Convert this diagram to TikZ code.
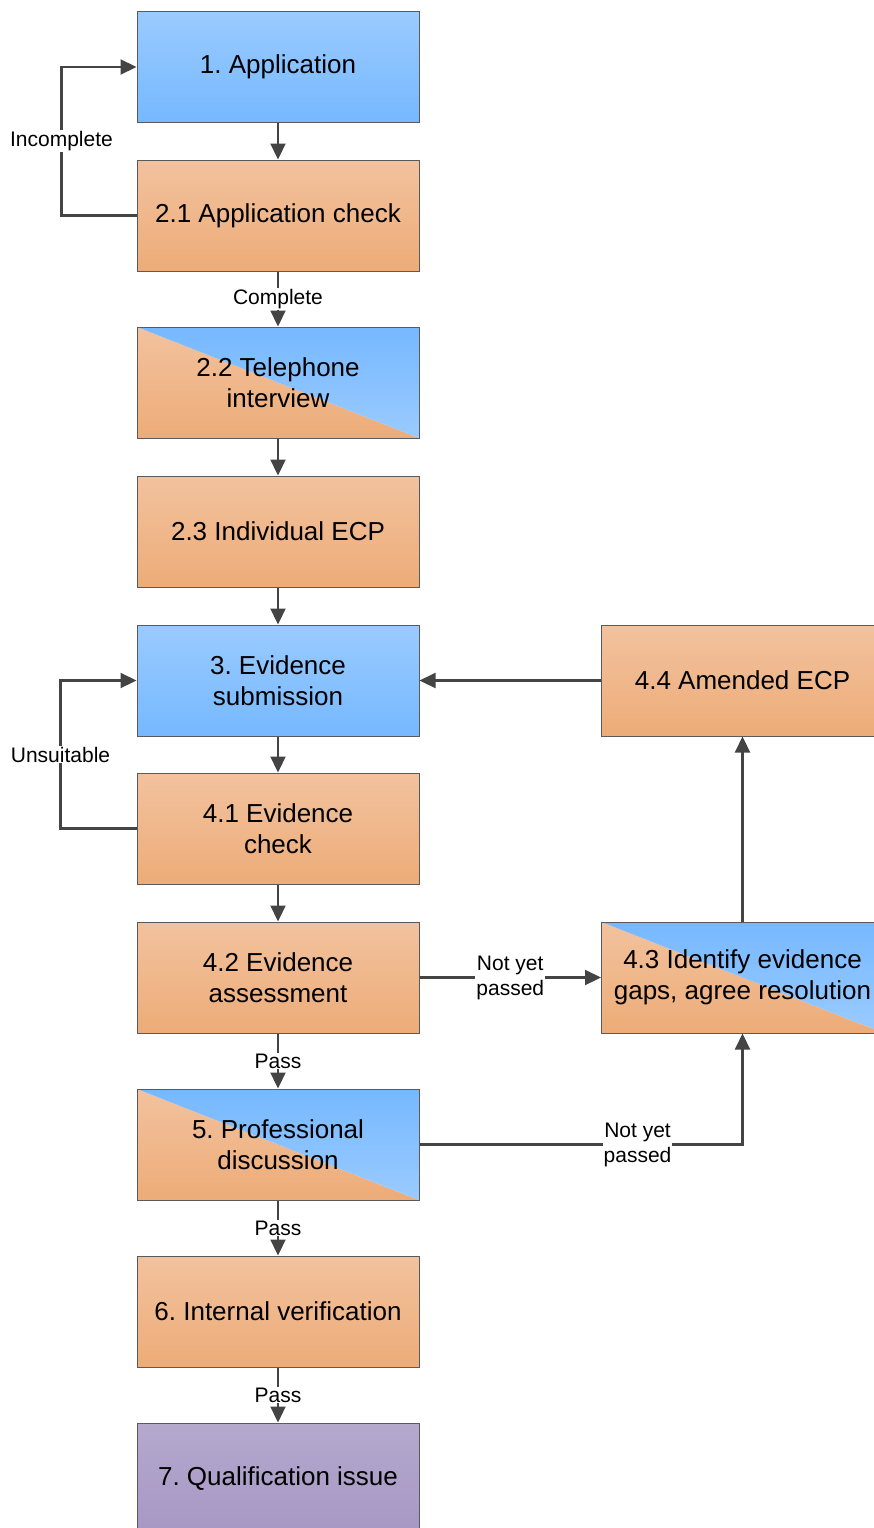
\documentclass[tikz,border=0pt]{standalone}
\usepackage{fontspec}
\setmainfont{Liberation Sans}
\usetikzlibrary{arrows.meta}
\definecolor{blueTop}{HTML}{9ACBFF}
\definecolor{blueBot}{HTML}{76B8FF}
\definecolor{orTop}{HTML}{F2C29E}
\definecolor{orBot}{HTML}{EDAC78}
\definecolor{puTop}{HTML}{B5A9CE}
\definecolor{puBot}{HTML}{A697C4}
\definecolor{edge}{HTML}{5A5A5A}
\definecolor{linec}{HTML}{444444}
\frenchspacing
\begin{document}
\begin{tikzpicture}[x=1pt,y=-1pt,
  boxbase/.style={draw=edge, line width=1pt, minimum width=282pt, minimum height=111pt,
    inner sep=0pt, align=center, font=\fontsize{26}{31}\selectfont},
  orbox/.style={boxbase, top color=orTop, bottom color=orBot},
  bluebox/.style={boxbase, top color=blueTop, bottom color=blueBot},
  purbox/.style={boxbase, top color=puTop, bottom color=puBot},
  splitbox/.style={boxbase, path picture={
      \shade[top color=orTop, bottom color=orBot]
        (path picture bounding box.north west) -- (path picture bounding box.south east)
        -- (path picture bounding box.south west) -- cycle;
      \shade[top color=blueBot, bottom color=blueTop]
        (path picture bounding box.north west) -- (path picture bounding box.north east)
        -- (path picture bounding box.south east) -- cycle;}},
  flow/.style={draw=linec, line width=2.2pt, -{Triangle[length=16pt,width=15pt]}},
  lbl/.style={fill=white, inner sep=1pt, align=center, text=black,
    font=\fontsize{21}{25}\selectfont}
]
\useasboundingbox (0,0) rectangle (873,1528);

\node[bluebox]  (app)  at (278,67)     {1. Application};
\node[orbox]    (chk)  at (278,215.5)  {2.1 Application check};
\node[splitbox] (tel)  at (278,382.5)  {2.2 Telephone\\interview};
\node[orbox]    (ecp)  at (278,531.5)  {2.3 Individual ECP};
\node[bluebox]  (evi)  at (278,680.5)  {3. Evidence\\submission};
\node[orbox]    (ech)  at (278,828.5)  {4.1 Evidence\\check};
\node[orbox]    (ass)  at (278,977.5)  {4.2 Evidence\\assessment};
\node[splitbox] (pro)  at (278,1144.5) {5. Professional\\discussion};
\node[orbox]    (ver)  at (278,1311.5) {6. Internal verification};
\node[purbox]   (qual) at (278,1478.5) {7. Qualification issue};
\node[orbox]    (amd)  at (742.5,680.5) {4.4 Amended ECP};
\node[splitbox] (gap)  at (742.5,977.5) {4.3 Identify evidence\\gaps, agree resolution};

\draw[flow] (app) -- (chk);
\draw[flow] (chk) -- node[lbl]{Complete} (tel);
\draw[flow] (tel) -- (ecp);
\draw[flow] (ecp) -- (evi);
\draw[flow] (evi) -- (ech);
\draw[flow] (ech) -- (ass);
\draw[flow] (ass) -- node[lbl]{Pass} (pro);
\draw[flow] (pro) -- node[lbl]{Pass} (ver);
\draw[flow] (ver) -- node[lbl]{Pass} (qual);

\draw[flow] (chk.west) -- ++(-75,0) |- node[lbl,pos=0.25]{Incomplete} (app.west);
\draw[flow] (ech.west) -- ++(-76,0) |- node[lbl,pos=0.25]{Unsuitable} (evi.west);

\draw[flow] (ass.east) -- node[lbl]{Not yet\\passed} (gap.west);
\draw[flow] (pro.east) -| node[lbl,pos=0.3375]{Not yet\\passed} (gap.south);
\draw[flow] (gap.north) -- (amd.south);
\draw[flow] (amd.west) -- (evi.east);
\end{tikzpicture}
\end{document}
